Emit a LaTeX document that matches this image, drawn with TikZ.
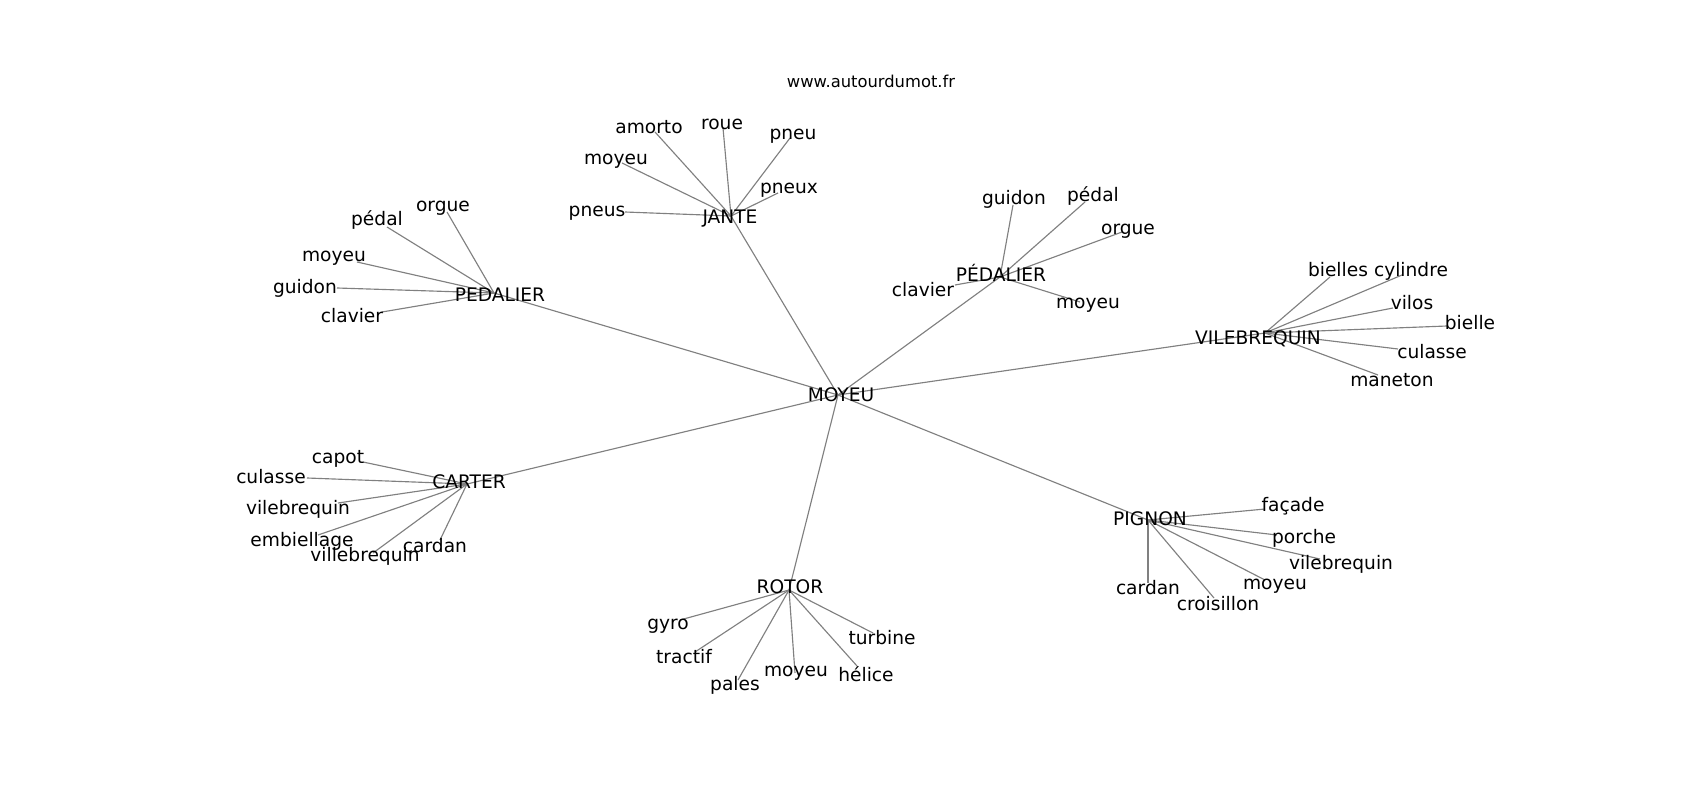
\documentclass[tikz,border=0pt]{standalone}
\usepackage{fontspec}
\setmainfont{DejaVu Sans}
\pgfdeclarelayer{background}
\pgfsetlayers{background,main}
\begin{document}
\begin{tikzpicture}[x=0.02cm,y=-0.02cm,
  lbl/.style={font=\fontsize{10.6pt}{12pt}\selectfont, inner sep=0pt, text height=7.7pt, text depth=0pt, anchor=center},
  ttl/.style={font=\fontsize{9.3pt}{11pt}\selectfont, inner sep=0pt, text height=6.8pt, text depth=0pt, anchor=center},
  link/.style={draw=gray, line width=0.65pt}]
\useasboundingbox (0,0) rectangle (1700,800);
\node[ttl] (title) at (871,82) {www.autourdumot.fr};
% hubs
\foreach \n/\t/\ex/\ey/\lx/\ly in {
  m/MOYEU/838/395/841/395,
  j/JANTE/731/216/730/217,
  pl/PEDALIER/494/293/500/295,
  pr/PÉDALIER/1000/277/1001/275,
  v/VILEBREQUIN/1265/333/1258/338,
  ca/CARTER/467/484/469/482,
  r/ROTOR/789/590/790/587,
  pi/PIGNON/1148/520/1150/519}
{\coordinate (\n) at (\ex,\ey); \node[lbl] (\n-l) at (\lx,\ly) {\t};}
% leaves
\foreach \n/\t/\ex/\ey/\lx/\ly in {
  j1/amorto/655/132/649/127,
  j2/roue/723/128/722/123,
  j3/pneu/790/138/793/133,
  j4/moyeu/622/163/616/158,
  j5/pneux/778/193/789/187,
  j6/pneus/625/212/597/210,
  pl1/orgue/447/212/443/205,
  pl2/pédal/387/227/377/219,
  pl3/moyeu/357/262/334/255,
  pl4/guidon/337/288/305/287,
  pl5/clavier/382/312/352/316,
  pr1/guidon/1013/205/1014/198,
  pr2/pédal/1085/202/1093/195,
  pr3/orgue/1122/232/1128/228,
  pr4/moyeu/1080/302/1088/302,
  pr5/clavier/955/285/923/290,
  v1/bielles/1330/277/1338/270,
  v2/cylindre/1402/275/1411/270,
  v3/vilos/1393/308/1412/303,
  v4/bielle/1447/326/1470/323,
  v5/culasse/1398/349/1432/352,
  v6/maneton/1378/375/1392/380,
  ca1/capot/363/462/338/457,
  ca2/culasse/307/478/271/477,
  ca3/vilebrequin/338/503/298/508,
  ca4/embiellage/318/535/302/540,
  ca5/villebrequin/373/553/365/555,
  ca6/cardan/440/540/435/546,
  r1/gyro/680/620/668/623,
  r2/tractif/695/652/684/657,
  r3/pales/738/680/735/684,
  r4/moyeu/795/673/796/670,
  r5/hélice/857/666/866/675,
  r6/turbine/873/633/882/638,
  pi1/façade/1265/509/1293/505,
  pi2/porche/1277/535/1304/537,
  pi3/vilebrequin/1320/559/1341/563,
  pi4/moyeu/1265/580/1275/583,
  pi5/cardan/1148/583/1148/588,
  pi6/croisillon/1214/598/1218/604}
{\coordinate (\n) at (\ex,\ey); \node[lbl] (\n-l) at (\lx,\ly) {\t};}
\begin{pgfonlayer}{background}
\foreach \a/\b in {m/j,m/pl,m/pr,m/v,m/ca,m/r,m/pi,
  j/j1,j/j2,j/j3,j/j4,j/j5,j/j6,
  pl/pl1,pl/pl2,pl/pl3,pl/pl4,pl/pl5,
  pr/pr1,pr/pr2,pr/pr3,pr/pr4,pr/pr5,
  v/v1,v/v2,v/v3,v/v4,v/v5,v/v6,
  ca/ca1,ca/ca2,ca/ca3,ca/ca4,ca/ca5,ca/ca6,
  r/r1,r/r2,r/r3,r/r4,r/r5,r/r6,
  pi/pi1,pi/pi2,pi/pi3,pi/pi4,pi/pi5,pi/pi6}
  \draw[link] (\a) -- (\b);
\end{pgfonlayer}
\end{tikzpicture}
\end{document}
